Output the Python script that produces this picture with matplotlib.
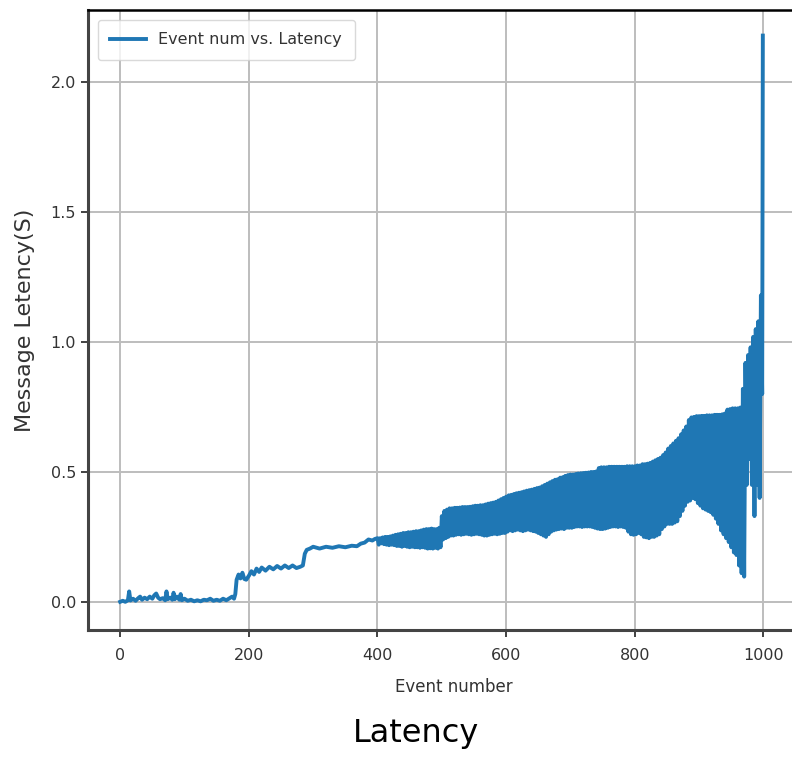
import matplotlib
matplotlib.use("Agg")
import matplotlib.pyplot as plt

# --- data ---
# start of the run: single noisy trace
early_events = [0, 4, 8, 12, 14, 16, 20, 24, 28, 31, 34, 38, 42, 46, 50, 53,
                56, 59, 62, 66, 70, 72, 74, 78, 81, 83, 85, 88, 92, 94, 96, 100,
                105, 110, 115, 120, 125, 130, 135, 140, 145, 150, 155, 160, 165, 170,
                174, 177, 179, 181, 184, 187, 190, 193, 196, 200, 204, 208, 212, 216,
                220, 226, 232, 238, 244, 250, 256, 262, 268, 274, 280, 284, 287, 290,
                295, 300, 310, 320, 330, 340, 350, 360, 368, 374, 380, 386, 392, 396]
early_latency = [0.0, 0.004, 0.0, 0.006, 0.04, 0.005, 0.012, 0.004, 0.014, 0.02, 0.008, 0.016, 0.01, 0.02, 0.012, 0.025,
                 0.032, 0.016, 0.01, 0.014, 0.006, 0.04, 0.01, 0.016, 0.008, 0.035, 0.01, 0.02, 0.008, 0.03, 0.006, 0.012,
                 0.004, 0.008, 0.002, 0.006, 0.002, 0.008, 0.006, 0.012, 0.004, 0.008, 0.004, 0.012, 0.006, 0.014,
                 0.02, 0.012, 0.03, 0.085, 0.105, 0.09, 0.112, 0.088, 0.085, 0.1, 0.118, 0.105, 0.128, 0.115,
                 0.132, 0.12, 0.135, 0.125, 0.138, 0.128, 0.14, 0.13, 0.14, 0.13, 0.135, 0.14, 0.185, 0.2,
                 0.205, 0.212, 0.205, 0.212, 0.208, 0.214, 0.21, 0.216, 0.214, 0.224, 0.228, 0.24, 0.236, 0.242]

# later part: latency swings between a high and a low value every other event
band_events = list(range(400, 997, 4))
band_high = [0.245, 0.245, 0.248, 0.25, 0.25, 0.252, 0.255, 0.258, 0.26, 0.262, 0.265, 0.265, 0.268, 0.268, 0.27, 0.272, 0.272, 0.275, 0.278, 0.28, 0.28, 0.282, 0.28, 0.28, 0.285,
             0.33, 0.35, 0.355, 0.36, 0.36, 0.362, 0.362, 0.363, 0.365, 0.365, 0.365, 0.366, 0.368, 0.37, 0.37, 0.372, 0.372, 0.375, 0.378, 0.38, 0.382, 0.385, 0.39, 0.395, 0.40,
             0.405, 0.41, 0.412, 0.415, 0.418, 0.42, 0.422, 0.425, 0.428, 0.43, 0.432, 0.435, 0.438, 0.44, 0.445, 0.45, 0.455, 0.46, 0.465, 0.47, 0.472, 0.478, 0.48, 0.485, 0.488,
             0.49, 0.49, 0.492, 0.494, 0.495, 0.496, 0.497, 0.498, 0.50, 0.50, 0.502, 0.515, 0.518, 0.518, 0.518, 0.52, 0.52, 0.52, 0.52, 0.52, 0.52, 0.52, 0.522, 0.522, 0.522,
             0.522, 0.525, 0.525, 0.53, 0.53, 0.532, 0.535, 0.54, 0.545, 0.55, 0.555, 0.565, 0.575, 0.59, 0.60, 0.61, 0.62, 0.63, 0.645, 0.66, 0.675, 0.70, 0.71, 0.712, 0.715,
             0.715, 0.716, 0.716, 0.718, 0.718, 0.718, 0.72, 0.72, 0.72, 0.722, 0.725, 0.74, 0.742, 0.745, 0.745, 0.745, 0.748, 0.82, 0.92, 0.95, 0.98, 1.02, 1.05, 1.08, 1.18]
band_low = [0.22, 0.225, 0.222, 0.22, 0.218, 0.22, 0.218, 0.215, 0.215, 0.212, 0.215, 0.212, 0.21, 0.212, 0.21, 0.21, 0.208, 0.21, 0.208, 0.205, 0.206, 0.205, 0.208, 0.205, 0.21,
            0.24, 0.245, 0.25, 0.255, 0.255, 0.258, 0.26, 0.258, 0.26, 0.262, 0.26, 0.258, 0.26, 0.262, 0.26, 0.258, 0.255, 0.255, 0.258, 0.26, 0.262, 0.26, 0.262, 0.265, 0.265,
            0.27, 0.275, 0.272, 0.275, 0.278, 0.275, 0.272, 0.275, 0.278, 0.275, 0.272, 0.27, 0.265, 0.26, 0.255, 0.25, 0.26, 0.27, 0.275, 0.278, 0.28, 0.282, 0.28, 0.285, 0.285,
            0.285, 0.288, 0.29, 0.29, 0.288, 0.29, 0.29, 0.29, 0.288, 0.285, 0.282, 0.28, 0.28, 0.282, 0.285, 0.288, 0.29, 0.29, 0.288, 0.29, 0.288, 0.285, 0.27, 0.26, 0.258,
            0.26, 0.265, 0.26, 0.25, 0.248, 0.245, 0.25, 0.25, 0.255, 0.26, 0.28, 0.29, 0.30, 0.30, 0.30, 0.305, 0.31, 0.33, 0.35, 0.37, 0.385, 0.39, 0.40, 0.395, 0.38,
            0.37, 0.36, 0.355, 0.35, 0.345, 0.335, 0.32, 0.30, 0.275, 0.26, 0.245, 0.23, 0.21, 0.19, 0.18, 0.14, 0.11, 0.097, 0.45, 0.55, 0.45, 0.33, 0.45, 0.40, 0.80]

# final spike
tail_events = [999]
tail_latency = [2.18]

# --- assemble the trace ---
xs = list(early_events)
ys = list(early_latency)
for e, hi, lo in zip(band_events, band_high, band_low):
    xs += [e, e + 2]
    ys += [hi, lo]
xs += tail_events
ys += tail_latency

fig = plt.figure(figsize=(7.92, 7.57), dpi=100)
ax = fig.add_axes([88 / 792, 1 - 630 / 757, 707 / 792, 620 / 757])

ax.plot(xs, ys, color='#1f77b4', lw=2.8, label='Event num vs. Latency')

ax.set_xlim(-50, 1049)
ax.set_ylim(-0.1085, 2.2785)
ax.set_xticks([0, 200, 400, 600, 800, 1000])
ax.set_yticks([0.0, 0.5, 1.0, 1.5, 2.0])
ax.grid(True, color='#bdbdbd', lw=1.4)
ax.set_axisbelow(True)

ax.tick_params(labelsize=11.5, length=5, width=1.3, color='#333333', labelcolor='#333333')
ax.tick_params(axis='x', pad=8)
for side in ['left', 'bottom']:
    ax.spines[side].set_linewidth(2.2)
    ax.spines[side].set_color('#444444')
ax.spines['top'].set_linewidth(1.8)
ax.spines['top'].set_color('black')

ax.set_xlabel('Event number', fontsize=12, color='#333333')
ax.xaxis.set_label_coords(0.518, -0.078)
ax.set_ylabel('Message Letency(S)', fontsize=16, color='#333333')
ax.yaxis.set_label_coords(-0.075, 0.5)

leg = ax.legend(loc='upper left', fontsize=11.5, frameon=True, fancybox=True,
                borderaxespad=0.6, borderpad=0.8, handlelength=2.2)
leg.get_frame().set_edgecolor('#d0d0d0')
for t in leg.get_texts():
    t.set_color('#333333')

fig.text(0.525, 1 - 742 / 757, 'Latency', ha='center', va='baseline',
         fontsize=23, family=['DejaVu Sans'], color='black')

fig.savefig('out.png', dpi=100)
